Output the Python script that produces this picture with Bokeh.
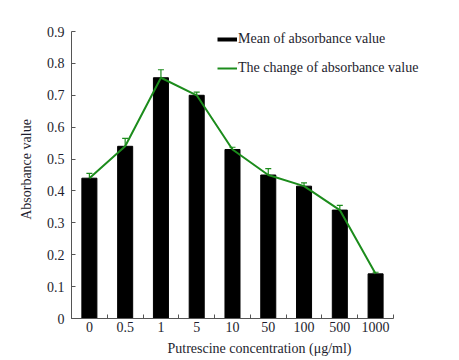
import numpy as np
from bokeh.plotting import figure
from bokeh.models import (ColumnDataSource, FixedTicker, Range1d, Whisker, TeeHead,
                          Legend, LegendItem)
from bokeh.embed import file_html
from bokeh.resources import INLINE

categories = ["0", "0.5", "1", "5", "10", "50", "100", "500", "1000"]
means = [0.44, 0.54, 0.755, 0.70, 0.53, 0.45, 0.415, 0.34, 0.14]
errors = [0.015, 0.025, 0.025, 0.01, 0.007, 0.02, 0.01, 0.015, 0.005]
y_ticks = [0, 0.1, 0.2, 0.3, 0.4, 0.5, 0.6, 0.7, 0.8, 0.9]

FONT = "Liberation Serif"
TXT = "#1e1e2e"
GREEN = "#1c8c1c"

n = len(categories)
x = np.arange(n) + 0.5
src = ColumnDataSource(dict(
    x=x, m=means,
    lo=[m - e for m, e in zip(means, errors)],
    hi=[m + e for m, e in zip(means, errors)],
))

p = figure(width=457, height=358, output_backend="svg", toolbar_location=None,
           x_range=Range1d(0, n * 10.51 / 9), y_range=Range1d(0, 0.9345),
           min_border_left=71, min_border_right=10, min_border_top=20,
           min_border_bottom=40)
p.outline_line_color = None
p.xgrid.visible = False
p.ygrid.visible = False

bars = p.vbar(x="x", top="m", width=0.42, bottom=0, source=src,
              fill_color="black", line_color="black")
line = p.line("x", "m", source=src, line_color=GREEN, line_width=2)
w = Whisker(base="x", lower="lo", upper="hi", source=src,
            line_color=GREEN, line_width=1.2,
            upper_head=TeeHead(size=6, line_color=GREEN, line_width=1.2),
            lower_head=TeeHead(size=6, line_color=GREEN, line_width=1.2))
p.add_layout(w)

# x axis
p.xaxis.bounds = (0, n)
p.xaxis.ticker = FixedTicker(ticks=list(x), minor_ticks=list(range(0, n + 1)))
p.xaxis.major_label_overrides = {float(xx): c for xx, c in zip(x, categories)}
p.xaxis.major_tick_in = 0
p.xaxis.major_tick_out = 0
p.xaxis.minor_tick_in = 4
p.xaxis.minor_tick_out = 0
p.xaxis.axis_label = "Putrescine concentration (\u03bcg/ml)"
p.xaxis.major_label_standoff = 3
p.xaxis.axis_label_standoff = 6

# y axis
p.yaxis.bounds = (0, 0.9)
p.yaxis.ticker = FixedTicker(ticks=y_ticks)
p.yaxis.major_label_overrides = {0: "0"}
p.yaxis.major_tick_in = 4
p.yaxis.major_tick_out = 0
p.yaxis.minor_tick_line_color = None
p.yaxis.axis_label = "Absorbance value"
p.yaxis.major_label_standoff = 7
p.yaxis.axis_label_standoff = 10

for ax in (p.xaxis, p.yaxis):
    ax.axis_line_color = "#555555"
    ax.major_tick_line_color = "#555555"
    ax.major_label_text_font = FONT
    ax.major_label_text_font_size = "14px"
    ax.major_label_text_color = TXT
    ax.axis_label_text_font = FONT
    ax.axis_label_text_font_size = "14px"
    ax.axis_label_text_font_style = "normal"
    ax.axis_label_text_color = TXT
p.xaxis.minor_tick_line_color = "#555555"

# legend proxy for the bar series (placed outside the visible ranges)
lg_bar = p.line(x=[-5, -4], y=[-1, -1], line_color="black", line_width=4)
legend = Legend(items=[
    LegendItem(label="Mean of absorbance value", renderers=[lg_bar]),
    LegendItem(label="The change of absorbance value", renderers=[line]),
], location=(146, 240), orientation="vertical")
legend.border_line_color = None
legend.background_fill_alpha = 0
legend.label_text_font = FONT
legend.label_text_font_size = "14px"
legend.label_text_color = TXT
legend.glyph_width = 20
legend.label_standoff = 1
legend.spacing = 9
legend.padding = 0
legend.margin = 0
p.add_layout(legend, "center")

open("out.html", "w").write(file_html(p, INLINE))
